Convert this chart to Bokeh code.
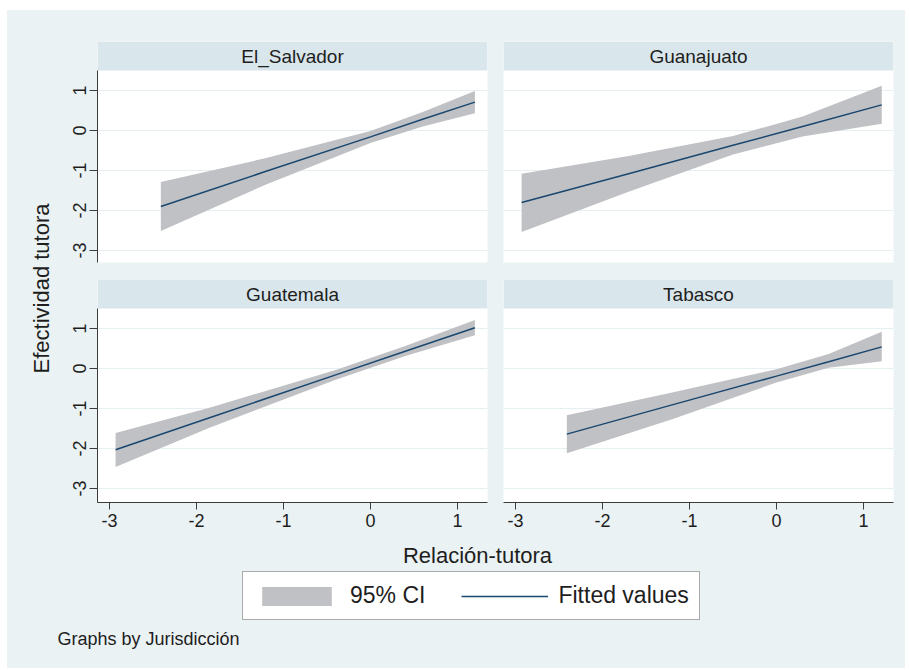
import math
from bokeh.plotting import figure
from bokeh.models import Range1d, FixedTicker, BoxAnnotation, Label, Legend, LegendItem, Spacer
from bokeh.layouts import row, column
from bokeh.embed import file_html
from bokeh.resources import INLINE

# ---------------- data ----------------
panel_names = ["El_Salvador", "Guanajuato", "Guatemala", "Tabasco"]
tick_values = [-3, -2, -1, 0, 1]
tick_labels = ["-3", "-2", "-1", "0", "1"]

es_x   = [-2.41, -1.20, 0.00, 0.60, 1.20]
es_fit = [-1.90, -1.02, -0.16, 0.28, 0.71]
es_lo  = [-2.51, -1.35, -0.31, 0.10, 0.43]
es_hi  = [-1.29, -0.69, -0.01, 0.46, 0.99]

gu_x   = [-2.93, -1.70, -0.50, 0.30, 1.21]
gu_fit = [-1.80, -1.08, -0.37, 0.10, 0.64]
gu_lo  = [-2.54, -1.53, -0.60, -0.15, 0.17]
gu_hi  = [-1.08, -0.64, -0.14, 0.35, 1.12]

gt_x   = [-2.93, -1.85, -0.40, 0.40, 1.20]
gt_fit = [-2.03, -1.23, -0.16, 0.43, 1.02]
gt_lo  = [-2.46, -1.48, -0.28, 0.31, 0.83]
gt_hi  = [-1.61, -0.98, -0.04, 0.56, 1.21]

tb_x   = [-2.41, -1.20, 0.00, 0.60, 1.21]
tb_fit = [-1.64, -0.91, -0.19, 0.17, 0.54]
tb_lo  = [-2.12, -1.27, -0.35, 0.02, 0.18]
tb_hi  = [-1.17, -0.60, -0.02, 0.36, 0.92]

x_title = "Relación-tutora"
y_title = "Efectividad tutora"
legend_labels = ["95% CI", "Fitted values"]
note_text = "Graphs by Jurisdicción"

# ---------------- styles ----------------
BG = "#EAF2F3"
STRIP = "#D9E6EB"
CI = "#C0C1C4"
FIT = "#1A476F"
AX = "#3C3C3C"
TXT = "#1E1E1E"
GRID = "#E6EFF1"
FONT = "Liberation Sans"

XR = (-3.138, 1.345)
STRIP_TOP = 2.225
overrides = {v: s for v, s in zip(tick_values, tick_labels)}


def style_axis(ax, tick_out):
    ax.ticker = FixedTicker(ticks=tick_values)
    ax.major_label_overrides = overrides
    ax.minor_tick_line_color = None
    ax.major_tick_in = 0
    ax.major_tick_out = tick_out
    ax.axis_line_color = AX
    ax.major_tick_line_color = AX
    ax.major_label_text_font = FONT
    ax.major_label_text_font_size = "18px"
    ax.major_label_text_color = TXT
    ax.major_label_standoff = 4


def panel(name, xs, fit, lo, hi, width, height, ybottom, left_axis, bottom_axis,
          mb_left, mb_right, mb_top, mb_bottom):
    p = figure(width=width, height=height, output_backend="svg", toolbar_location=None,
               x_range=Range1d(*XR), y_range=Range1d(ybottom, STRIP_TOP),
               x_axis_location="below" if bottom_axis else None,
               y_axis_location="left" if left_axis else None,
               min_border_left=mb_left, min_border_right=mb_right,
               min_border_top=mb_top, min_border_bottom=mb_bottom)
    p.outline_line_color = None
    p.background_fill_color = "white"
    p.border_fill_color = BG
    p.styles = {"background-color": BG}
    p.xgrid.visible = False
    p.ygrid.ticker = FixedTicker(ticks=tick_values)
    p.ygrid.grid_line_color = GRID
    p.ygrid.grid_line_width = 1.2

    if left_axis:
        ax = p.yaxis[0]
        style_axis(ax, 8)
        ax.bounds = (ybottom, 1.5)
        ax.major_label_orientation = "vertical"
    if bottom_axis:
        style_axis(p.xaxis[0], 7)

    # strip header
    p.add_layout(BoxAnnotation(bottom=1.5, fill_color=STRIP, fill_alpha=1.0,
                               line_color=None, level="underlay"))
    p.add_layout(Label(x=195, y=(1.5 + STRIP_TOP) / 2, x_units="screen", y_units="data",
                       text=name, text_align="center", text_baseline="middle",
                       text_font=FONT, text_font_size="19px", text_color=TXT))

    p.varea(x=xs, y1=lo, y2=hi, fill_color=CI, fill_alpha=1.0)
    p.line(x=xs, y=fit, line_color=FIT, line_width=1.5)
    return p


tl = panel(panel_names[0], es_x, es_fit, es_lo, es_hi, 437, 260, -3.30, True, False, 39, 8, 31, 8)
tr = panel(panel_names[1], gu_x, gu_fit, gu_lo, gu_hi, 410, 260, -3.30, False, False, 8, 12, 31, 8)
bl = panel(panel_names[2], gt_x, gt_fit, gt_lo, gt_hi, 437, 265, -3.35, True, True, 39, 8, 9, 33)
br = panel(panel_names[3], tb_x, tb_fit, tb_lo, tb_hi, 410, 265, -3.35, False, True, 8, 12, 9, 33)


def blank(width, height):
    f = figure(width=width, height=height, output_backend="svg", toolbar_location=None,
               x_range=Range1d(0, width), y_range=Range1d(0, height),
               x_axis_location=None, y_axis_location=None, min_border=0)
    f.outline_line_color = None
    f.background_fill_color = BG
    f.border_fill_color = BG
    f.styles = {"background-color": BG}
    f.grid.visible = False
    return f


ylab = blank(51, 525)
ylab.add_layout(Label(x=34, y=247, text=y_title, angle=math.pi / 2,
                      text_align="center", text_baseline="middle",
                      text_font=FONT, text_font_size="22px", text_color=TXT))

bottom = blank(898, 133)
bottom.add_layout(Label(x=470, y=113, text=x_title, text_align="center", text_baseline="middle",
                        text_font=FONT, text_font_size="22px", text_color=TXT))
bottom.add_layout(Label(x=50, y=30, text=note_text, text_align="left", text_baseline="middle",
                        text_font=FONT, text_font_size="18px", text_color=TXT))

# legend-only renderers, placed off-canvas so only their legend swatches show
r_ci = bottom.varea(x=[-20, -10], y1=[-20, -20], y2=[-10, -10], fill_color=CI, fill_alpha=1.0)
r_fit = bottom.line(x=[-20, -10], y=[-20, -20], line_color=FIT, line_width=1.5)
legend = Legend(items=[LegendItem(label=legend_labels[0], renderers=[r_ci]),
                       LegendItem(label=legend_labels[1], renderers=[r_fit])],
                location=(235, 48), orientation="horizontal",
                border_line_color="#555555", border_line_width=1,
                background_fill_color="white", background_fill_alpha=1.0,
                padding=10, margin=0, spacing=36, glyph_width=87, glyph_height=24,
                label_standoff=10, label_height=24,
                label_text_font=FONT, label_text_font_size="23px", label_text_color=TXT)
bottom.add_layout(legend)

grid_rows = column(row(tl, tr, styles={"background-color": BG}),
                   row(bl, br, styles={"background-color": BG}),
                   styles={"background-color": BG})
upper = row(ylab, grid_rows, styles={"background-color": BG})
content = column(upper, bottom, styles={"background-color": BG})
layout = column(Spacer(height=10), row(Spacer(width=7), content))

open("out.html", "w").write(file_html(layout, INLINE))
